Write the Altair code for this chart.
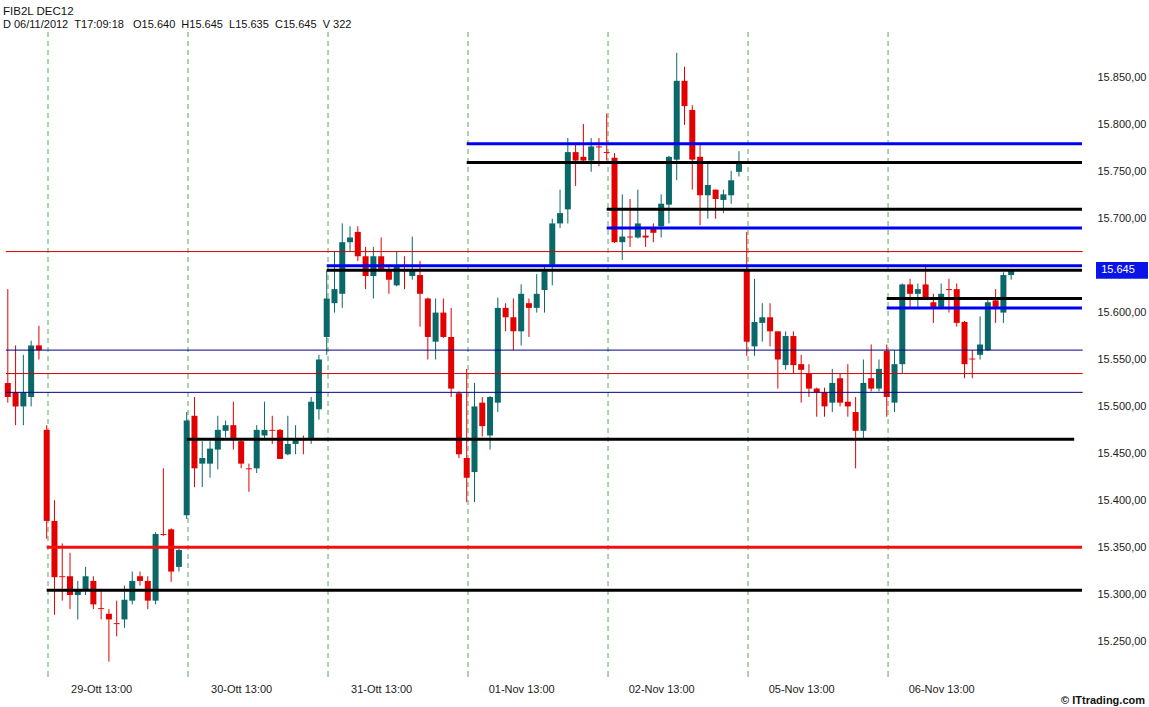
import json
import altair as alt
import pandas as pd

# ---------------- data (30-minute bars, FIB2L DEC12) ----------------
opens = [15525, 15515, 15500, 15510, 15565,
         15475, 15378, 15319, 15319, 15299, 15304, 15314, 15285, 15279, 15269, 15273, 15293, 15319, 15314, 15293, 15364, 15369, 15329,
         15384, 15490, 15439, 15439, 15454, 15474, 15480, 15463, 15434, 15434, 15469, 15475, 15475, 15449, 15460, 15466, 15465, 15497,
         15574, 15610, 15620, 15675, 15686, 15660, 15639, 15660, 15646, 15629, 15646, 15639, 15640, 15615, 15569, 15600, 15574, 15514,
         15445, 15430, 15504, 15469, 15504, 15605, 15595, 15580, 15610, 15605, 15624, 15651, 15695, 15710, 15771, 15766, 15762, 15777,
         15771, 15765, 15675, 15681, 15680, 15682, 15690, 15692, 15715, 15763, 15847, 15816, 15766, 15725, 15731, 15720, 15725, 15750,
         15645, 15564, 15589, 15595, 15580, 15544, 15575, 15545, 15535, 15519, 15515, 15504, 15530, 15505, 15494, 15474, 15530, 15519,
         15559, 15504, 15545, 15630, 15620, 15630, 15611, 15606, 15625, 15625, 15590, 15551, 15555, 15560, 15613, 15600, 15640]
highs = [15625, 15565, 15555, 15570, 15586,
         15480, 15400, 15354, 15344, 15314, 15329, 15319, 15304, 15284, 15293, 15309, 15324, 15324, 15319, 15366, 15434, 15370, 15349,
         15494, 15510, 15463, 15463, 15490, 15485, 15505, 15465, 15439, 15480, 15505, 15490, 15476, 15490, 15480, 15469, 15510, 15555,
         15645, 15665, 15695, 15692, 15692, 15670, 15670, 15680, 15650, 15665, 15660, 15681, 15655, 15616, 15615, 15615, 15605, 15516,
         15540, 15525, 15510, 15511, 15616, 15610, 15615, 15630, 15615, 15641, 15650, 15700, 15731, 15786, 15779, 15801, 15786, 15786,
         15812, 15770, 15726, 15721, 15731, 15690, 15695, 15726, 15767, 15877, 15862, 15821, 15779, 15760, 15731, 15731, 15751, 15772,
         15686, 15636, 15610, 15610, 15580, 15580, 15580, 15555, 15545, 15520, 15520, 15540, 15535, 15545, 15510, 15550, 15566, 15550,
         15566, 15560, 15631, 15636, 15631, 15651, 15620, 15631, 15636, 15631, 15591, 15560, 15596, 15616, 15625, 15643, 15645]
lows = [15504, 15480, 15480, 15500, 15550,
        15359, 15278, 15293, 15284, 15273, 15299, 15284, 15273, 15228, 15255, 15264, 15289, 15309, 15284, 15289, 15362, 15313, 15324,
        15380, 15414, 15414, 15424, 15433, 15467, 15454, 15434, 15409, 15429, 15464, 15460, 15444, 15448, 15449, 15449, 15460, 15486,
        15555, 15600, 15605, 15665, 15655, 15625, 15615, 15645, 15620, 15628, 15625, 15635, 15585, 15550, 15550, 15573, 15510, 15445,
        15398, 15398, 15468, 15454, 15494, 15580, 15560, 15565, 15574, 15600, 15600, 15629, 15690, 15695, 15735, 15761, 15750, 15756,
        15762, 15674, 15656, 15670, 15679, 15670, 15675, 15680, 15695, 15741, 15800, 15731, 15693, 15700, 15700, 15706, 15716, 15745,
        15554, 15554, 15569, 15564, 15519, 15539, 15535, 15504, 15510, 15489, 15489, 15494, 15500, 15489, 15434, 15466, 15516, 15516,
        15489, 15494, 15535, 15606, 15606, 15615, 15589, 15605, 15600, 15585, 15530, 15530, 15550, 15559, 15589, 15589, 15635]
closes = [15510, 15500, 15515, 15565, 15560,
          15378, 15318, 15318, 15299, 15304, 15319, 15289, 15284, 15273, 15268, 15294, 15314, 15314, 15293, 15364, 15363, 15324, 15347,
          15485, 15434, 15445, 15455, 15475, 15480, 15465, 15439, 15433, 15475, 15475, 15474, 15444, 15460, 15464, 15464, 15505, 15550,
          15615, 15625, 15675, 15680, 15660, 15639, 15660, 15646, 15635, 15649, 15644, 15645, 15620, 15574, 15600, 15574, 15519, 15449,
          15424, 15500, 15479, 15510, 15605, 15595, 15580, 15620, 15605, 15620, 15644, 15695, 15706, 15771, 15762, 15762, 15777, 15776,
          15770, 15675, 15681, 15680, 15695, 15680, 15685, 15716, 15766, 15847, 15820, 15763, 15725, 15736, 15721, 15726, 15741, 15760,
          15569, 15590, 15595, 15580, 15550, 15575, 15544, 15539, 15519, 15515, 15500, 15525, 15504, 15500, 15474, 15525, 15519, 15540,
          15510, 15545, 15630, 15620, 15625, 15616, 15606, 15620, 15624, 15589, 15545, 15550, 15566, 15611, 15606, 15640, 15645]

day_starts = [5, 23, 41, 59, 77, 95, 113]
label_pos = [12, 30, 48, 66, 84, 102, 120]
day_labels = ["29-Ott 13:00", "30-Ott 13:00", "31-Ott 13:00", "01-Nov 13:00",
              "02-Nov 13:00", "05-Nov 13:00", "06-Nov 13:00"]

level_values = [15665, 15560, 15535, 15515, 15650, 15645, 15465, 15350, 15304,
                15780, 15760, 15710, 15690, 15615, 15605]
level_start = [-0.25, -0.25, -0.25, -0.25, 41, 41, 23, 5, 5, 59, 59, 77, 77, 113, 113]
level_end = [138.2, 138.2, 138.2, 138.2, 138.1, 138.1, 137.1, 138.1, 138.1,
             138.1, 138.1, 138.1, 138.1, 138.1, 138.1]
level_colors = ["#d00000", "#000080", "#d00000", "#000080", "#0000f0", "#000000",
                "#000000", "#f01010", "#000000", "#0000f0", "#000000", "#000000",
                "#0000f0", "#000000", "#0000f0"]
level_widths = [1, 1, 1, 1, 3, 3, 3, 3, 3, 3, 3, 3, 3, 3, 3]

# 15.650 is covered by the last-price box in the reference
y_ticks = [15250, 15300, 15350, 15400, 15450, 15500, 15550, 15600, 15700, 15750, 15800, 15850]

TEAL = "#0b6868"
RED = "#e30000"
GREEN = "#5aa85a"
FONT = "Liberation Sans"

candles = pd.DataFrame({
    "i": list(range(len(opens))),
    "open": opens, "high": highs, "low": lows, "close": closes,
})
levels = pd.DataFrame({"v": level_values, "x0": level_start, "x1": level_end,
                       "c": level_colors, "w": level_widths})
days = pd.DataFrame({"d": day_starts})

xscale = alt.Scale(domain=[-1.003, 138.49], nice=False, zero=False, padding=0)
yscale = alt.Scale(domain=[15219.1, 15933.1], nice=False, zero=False, padding=0)

xlabel_expr = "{}[indexof({}, datum.value)]".format(json.dumps(day_labels), json.dumps(label_pos))
xaxis = alt.Axis(values=label_pos, labelExpr=xlabel_expr, ticks=False, domain=False, grid=False,
                 labelPadding=13, labelFont=FONT, labelFontSize=11, labelColor="#222222",
                 labelFlush=False, labelOverlap=False, title=None)
yaxis = alt.Axis(orient="right", values=y_ticks,
                 labelExpr="substring(format(datum.value,'d'),0,2) + '.' + substring(format(datum.value,'d'),2,5) + ',00'",
                 ticks=False, domain=False, grid=False, labelPadding=12, labelFont=FONT,
                 labelFontSize=11, labelColor="#222222", labelFlush=False, labelOverlap=False,
                 title=None)

color_cond = alt.condition("datum.close >= datum.open", alt.value(TEAL), alt.value(RED))

sep = alt.Chart(days).transform_calculate(xp="datum.d + 0.17").mark_rule(
    color=GREEN, strokeDash=[5, 4], strokeWidth=1).encode(
    x=alt.X("xp:Q", scale=xscale, axis=xaxis), y=alt.value(32), y2=alt.value(668))

sep_ticks = alt.Chart(days).transform_calculate(xp="datum.d + 0.17").mark_rule(
    color=GREEN, strokeWidth=1).encode(
    x=alt.X("xp:Q", scale=xscale, axis=xaxis), y=alt.value(671), y2=alt.value(677))

wicks = alt.Chart(candles).mark_rule(strokeWidth=1).encode(
    x=alt.X("i:Q", scale=xscale, axis=xaxis),
    y=alt.Y("low:Q", scale=yscale, axis=yaxis),
    y2="high:Q",
    color=color_cond)

bodies = alt.Chart(candles).mark_bar(size=6, orient="vertical").encode(
    x=alt.X("i:Q", scale=xscale, axis=xaxis),
    y=alt.Y("open:Q", scale=yscale, axis=yaxis),
    y2="close:Q",
    color=color_cond)

lines = alt.Chart(levels).mark_rule().encode(
    x=alt.X("x0:Q", scale=xscale, axis=xaxis), x2="x1:Q",
    y=alt.Y("v:Q", scale=yscale, axis=yaxis),
    color=alt.Color("c:N", scale=None),
    strokeWidth=alt.StrokeWidth("w:Q", scale=None))

last = closes[-1]
last_label = f"{last // 1000}.{last % 1000:03d}"
price_df = pd.DataFrame({"p": [last], "t": [last_label]})
price_box = alt.Chart(price_df).transform_calculate(
    top="datum.p + 9", bot="datum.p - 9").mark_rect(color="#0a14e6").encode(
    x=alt.value(1096), x2=alt.value(1148),
    y=alt.Y("top:Q", scale=yscale, axis=yaxis), y2="bot:Q")
price_text = alt.Chart(price_df).mark_text(
    color="white", font=FONT, fontSize=11, align="center", baseline="middle").encode(
    x=alt.value(1118), y=alt.Y("p:Q", scale=yscale, axis=yaxis), text="t:N")

hdr_df = pd.DataFrame({"a": [0]})
nb = "\u00a0"
line2 = (f"D{nb}06/11/2012{nb}{nb}T17:09:18{nb}{nb}{nb}O15.640{nb}{nb}"
         f"H15.645{nb}{nb}L15.635{nb}{nb}C15.645{nb}{nb}V{nb}322")
title1 = alt.Chart(hdr_df).mark_text(text="FIB2L DEC12", font=FONT, fontSize=11.5, align="left",
                                      baseline="alphabetic", color="#111111").encode(
    x=alt.value(3), y=alt.value(15))
title2 = alt.Chart(hdr_df).mark_text(text=line2, font=FONT, fontSize=11, align="left",
                                      baseline="alphabetic", color="#111111").encode(
    x=alt.value(3), y=alt.value(28))
copyright_t = alt.Chart(hdr_df).mark_text(text="\u00a9 ITtrading.com", font=FONT, fontSize=11,
                                           fontWeight="bold", align="right", baseline="alphabetic",
                                           color="#111111").encode(
    x=alt.value(1145), y=alt.value(704))

chart = alt.layer(sep, sep_ticks, wicks, bodies, lines, price_box, price_text,
                  title1, title2, copyright_t).properties(
    width=1085, height=670,
    autosize=alt.AutoSizeParams(type="none"),
    padding={"left": 0, "top": 0, "right": 64, "bottom": 37},
    background="white",
).configure_view(strokeWidth=0)

chart.save("out.html", embed_options={"renderer": "svg", "actions": False})
